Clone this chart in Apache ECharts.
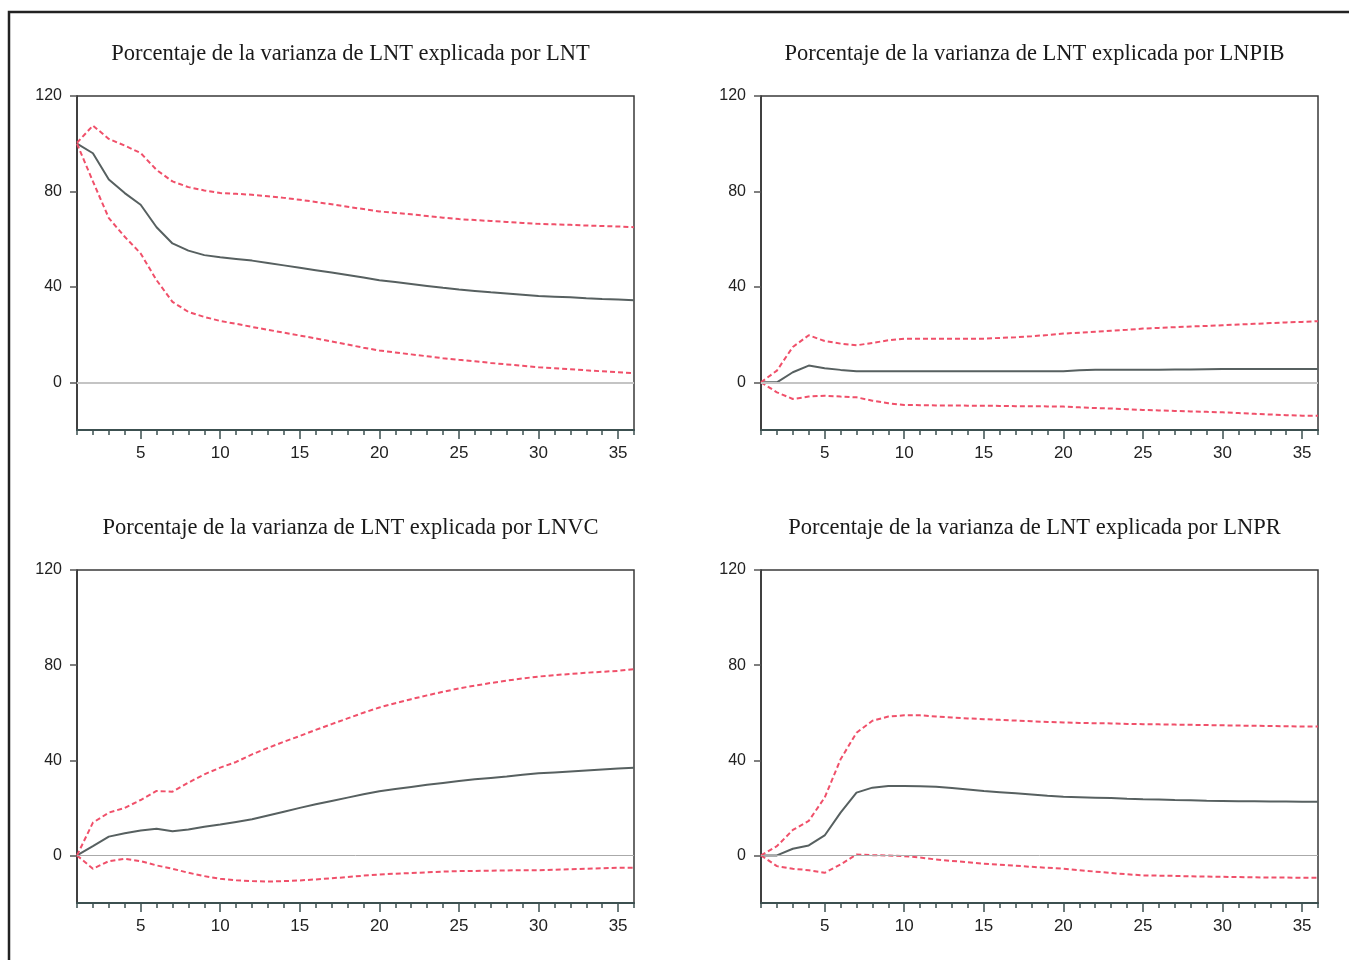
<!DOCTYPE html>
<html><head><meta charset="utf-8">
<script src="https://cdn.jsdelivr.net/npm/echarts@6/dist/echarts.min.js"></script>
<style>html,body{margin:0;padding:0;background:#fff}#c{width:1349px;height:960px}</style>
</head><body><div id="c"></div>
<script>
var periods = [];
for (var i = 1; i <= 36; i++) periods.push(i);
var yTickValues = [0, 40, 80, 120];
var xLabelValues = [5, 10, 15, 20, 25, 30, 35];
var titles = [
  'Porcentaje de la varianza de LNT explicada por LNT',
  'Porcentaje de la varianza de LNT explicada por LNPIB',
  'Porcentaje de la varianza de LNT explicada por LNVC',
  'Porcentaje de la varianza de LNT explicada por LNPR'
];
// Panel 1: LNT
var lntMid = [100,96,85,79.3,74.4,65,58.2,55.2,53.3,52.4,51.7,51,50,49,48,47,46,45,43.9,42.8,42,41.2,40.4,39.6,38.9,38.3,37.7,37.2,36.7,36.2,35.9,35.6,35.2,34.9,34.7,34.4];
var lntUp = [100.4,107.6,102,99.2,96.1,89,84.2,81.8,80.4,79.3,79,78.6,78,77.3,76.5,75.6,74.6,73.6,72.6,71.6,71,70.4,69.7,69,68.4,68,67.6,67.2,66.8,66.4,66.2,66,65.7,65.5,65.3,65];
var lntLo = [100,84.2,68.8,61,54,42.8,33.7,29.5,27.4,25.7,24.5,23.2,22,20.8,19.6,18.4,17.1,15.8,14.5,13.3,12.5,11.7,10.9,10.1,9.4,8.8,8.1,7.5,6.9,6.3,5.9,5.5,5,4.6,4.2,3.8];
// Panel 2: LNPIB
var pibMid = [0,0,4.2,7,5.9,5.2,4.6,4.6,4.6,4.6,4.6,4.6,4.6,4.6,4.6,4.6,4.6,4.6,4.6,4.6,5,5.3,5.3,5.3,5.3,5.3,5.4,5.4,5.5,5.6,5.6,5.6,5.6,5.6,5.6,5.6];
var pibUp = [0,4.9,14.8,19.7,17.3,16.2,15.5,16.5,17.6,18.3,18.3,18.3,18.3,18.3,18.3,18.6,18.9,19.3,19.8,20.4,20.8,21.2,21.6,22,22.5,22.8,23.1,23.4,23.6,23.9,24.2,24.5,24.8,25.1,25.3,25.6];
var pibLo = [0,-4.2,-7,-6,-5.6,-6,-6.3,-7.7,-8.8,-9.5,-9.6,-9.7,-9.7,-9.8,-9.8,-9.9,-10,-10,-10.1,-10.2,-10.5,-10.8,-11,-11.3,-11.6,-11.8,-12,-12.2,-12.4,-12.6,-12.9,-13.2,-13.5,-13.8,-14,-14];
// Panel 3: LNVC
var vcMid = [0,3.9,7.9,9.3,10.5,11.2,10.2,10.9,12.1,13,14.1,15.2,16.8,18.4,20,21.5,22.9,24.3,25.7,27,27.9,28.8,29.7,30.5,31.3,32,32.6,33.2,33.9,34.5,34.9,35.3,35.7,36.1,36.5,36.9];
var vcUp = [0,13.8,18,20,23.3,27.1,26.8,30.6,34.1,36.9,39.3,42.5,45.2,47.8,50.2,52.8,55.2,57.6,60,62.2,64,65.7,67.3,68.8,70.2,71.4,72.5,73.5,74.4,75.2,75.8,76.3,76.8,77.2,77.6,78.3];
var vcLo = [0,-5.6,-2.4,-1.4,-2.4,-4.2,-5.6,-7.3,-8.7,-9.8,-10.4,-10.8,-11,-10.8,-10.5,-10.1,-9.6,-9.1,-8.5,-8,-7.7,-7.4,-7.1,-6.8,-6.6,-6.5,-6.4,-6.3,-6.2,-6.2,-6,-5.8,-5.6,-5.4,-5.2,-5.2];
// Panel 4: LNPR
var prMid = [0,0,2.8,4.2,8.4,18,26.4,28.5,29.2,29.2,29.1,28.9,28.3,27.7,27.1,26.6,26.1,25.6,25.1,24.7,24.5,24.3,24.1,23.8,23.6,23.5,23.3,23.2,23,22.9,22.8,22.8,22.7,22.7,22.6,22.6];
var prUp = [0,3.9,10.7,14.5,24.3,40.4,51.6,56.6,58.4,58.9,58.9,58.4,58,57.6,57.3,57,56.7,56.4,56.1,55.9,55.7,55.6,55.5,55.3,55.2,55.1,55,54.9,54.8,54.7,54.6,54.5,54.4,54.3,54.2,54.2];
var prLo = [0,-4.5,-5.6,-6.2,-7.3,-3.8,0.4,0.1,0,-0.3,-0.9,-1.7,-2.3,-2.9,-3.5,-3.9,-4.3,-4.8,-5.2,-5.6,-6.2,-6.8,-7.4,-7.9,-8.4,-8.5,-8.6,-8.8,-8.9,-9,-9.1,-9.2,-9.3,-9.3,-9.4,-9.4];

var panels = [
  {mid: lntMid, up: lntUp, lo: lntLo},
  {mid: pibMid, up: pibUp, lo: pibLo},
  {mid: vcMid, up: vcUp, lo: vcLo},
  {mid: prMid, up: prUp, lo: prLo}
];
var boxes = [
  {left: 77, top: 96, width: 557, height: 334, zw: 2},
  {left: 761, top: 96, width: 557, height: 334, zw: 2},
  {left: 77, top: 570, width: 557, height: 333, zw: 1},
  {left: 761, top: 570, width: 557, height: 333, zw: 1}
];
function pairs(arr) { return arr.map(function (v, i) { return [periods[i], v]; }); }

var grid = [], xAxis = [], yAxis = [], series = [], graphic = [];
graphic.push({type: 'rect', shape: {x: 9, y: 12, width: 1400, height: 1000}, style: {fill: 'none', stroke: '#222', lineWidth: 2.5}, silent: true});
boxes.forEach(function (b, k) {
  grid.push({left: b.left, top: b.top, width: b.width, height: b.height, show: true, borderColor: '#3a3a3a', borderWidth: 1.5, backgroundColor: 'transparent'});
  xAxis.push({type: 'value', gridIndex: k, min: 1, max: 36, position: 'bottom',
    axisLine: {show: true, onZero: false, lineStyle: {color: '#3c5050', width: 2}},
    axisTick: {show: true, customValues: periods, length: 5, lineStyle: {color: '#3c5050', width: 1.5}},
    axisLabel: {show: false}, splitLine: {show: false}});
  xAxis.push({type: 'value', gridIndex: k, min: 1, max: 36, position: 'bottom',
    axisLine: {show: false, onZero: false},
    axisTick: {show: true, customValues: xLabelValues, length: 9, lineStyle: {color: '#3c5050', width: 1.5}},
    axisLabel: {show: true, customValues: xLabelValues, margin: 15, fontFamily: 'Liberation Sans', fontSize: 17, color: '#222'},
    splitLine: {show: false}});
  yAxis.push({type: 'value', gridIndex: k, min: -20, max: 120,
    axisLine: {show: true, onZero: false, lineStyle: {color: '#333', width: 1.5}},
    axisTick: {show: true, customValues: yTickValues, length: 7, inside: false, lineStyle: {color: '#555', width: 1.5}},
    axisLabel: {show: true, customValues: yTickValues, margin: 15, fontFamily: 'Liberation Sans', fontSize: 16, color: '#222'},
    splitLine: {show: false}});
  var p = panels[k];
  series.push({type: 'line', xAxisIndex: 2 * k, yAxisIndex: k, data: pairs(p.up), symbol: 'none', silent: true,
    lineStyle: {color: '#f0506a', width: 2, type: [5, 3]}, z: 3});
  series.push({type: 'line', xAxisIndex: 2 * k, yAxisIndex: k, data: pairs(p.lo), symbol: 'none', silent: true,
    lineStyle: {color: '#f0506a', width: 2, type: [5, 3]}, z: 3});
  series.push({type: 'line', xAxisIndex: 2 * k, yAxisIndex: k, data: pairs(p.mid), symbol: 'none', silent: true,
    lineStyle: {color: '#576060', width: 2}, z: 2,
    markLine: {silent: true, symbol: 'none', label: {show: false}, animation: false,
      lineStyle: {color: k < 2 ? '#c4c4c4' : '#aaaaaa', width: b.zw, type: 'solid'}, data: [{yAxis: 0}]}});
  graphic.push({type: 'text', x: b.left + b.width / 2 - 5, y: b.top - 42,
    style: {text: titles[k], fill: '#1a1a1a', font: '22.5px "Liberation Serif"', textAlign: 'center', textVerticalAlign: 'middle'}, silent: true});
});

var chart = echarts.init(document.getElementById('c'), null, {renderer: 'canvas'});
chart.setOption({animation: false, grid: grid, xAxis: xAxis, yAxis: yAxis, series: series, graphic: graphic});
</script></body></html>
